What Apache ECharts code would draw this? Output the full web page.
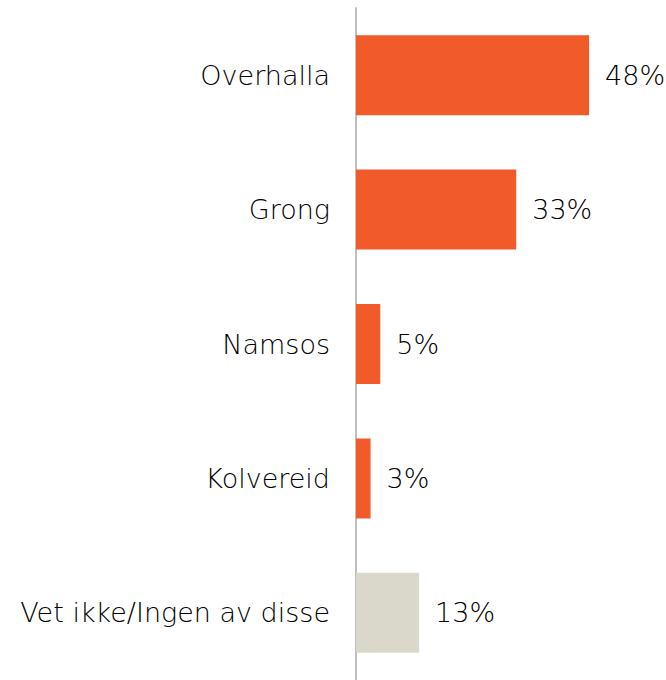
<!DOCTYPE html>
<html>
<head>
<meta charset="utf-8">
<script src="https://cdn.jsdelivr.net/npm/echarts@6/dist/echarts.min.js"></script>
<style>
  html, body { margin: 0; padding: 0; background: #fff; }
  #chart { width: 666px; height: 680px; }
</style>
</head>
<body>
<div id="chart"></div>
<script>
const categories = ['Overhalla', 'Grong', 'Namsos', 'Kolvereid', 'Vet ikke/Ingen av disse'];
const shares = [48, 33, 5, 3, 13];
const barColors = ['#f15a29', '#f15a29', '#f15a29', '#f15a29', '#dad8ca'];

const chart = echarts.init(document.getElementById('chart'), null, { renderer: 'svg' });
const font = '"DejaVu Sans", sans-serif';

chart.setOption({
  animation: false,
  grid: { left: 356, top: 8, bottom: 0, width: 291.3, containLabel: false },
  xAxis: {
    type: 'value',
    min: 0,
    max: 60,
    show: false,
  },
  yAxis: {
    type: 'category',
    inverse: true,
    data: categories,
    axisLine: { show: true, lineStyle: { color: '#bfbfbf', width: 2 } },
    axisTick: { show: false },
    axisLabel: { color: '#000', fontSize: 27, fontWeight: 200, fontFamily: font, margin: 26 },
  },
  series: [
    {
      type: 'bar',
      barWidth: 80,
      data: shares.map((v, i) => ({ value: v, itemStyle: { color: barColors[i] } })),
      label: {
        show: true,
        position: 'right',
        distance: 16,
        color: '#000',
        fontSize: 27,
        fontWeight: 200,
        fontFamily: font,
        formatter: (p) => p.value + '%',
      },
    },
  ],
});
</script>
</body>
</html>
